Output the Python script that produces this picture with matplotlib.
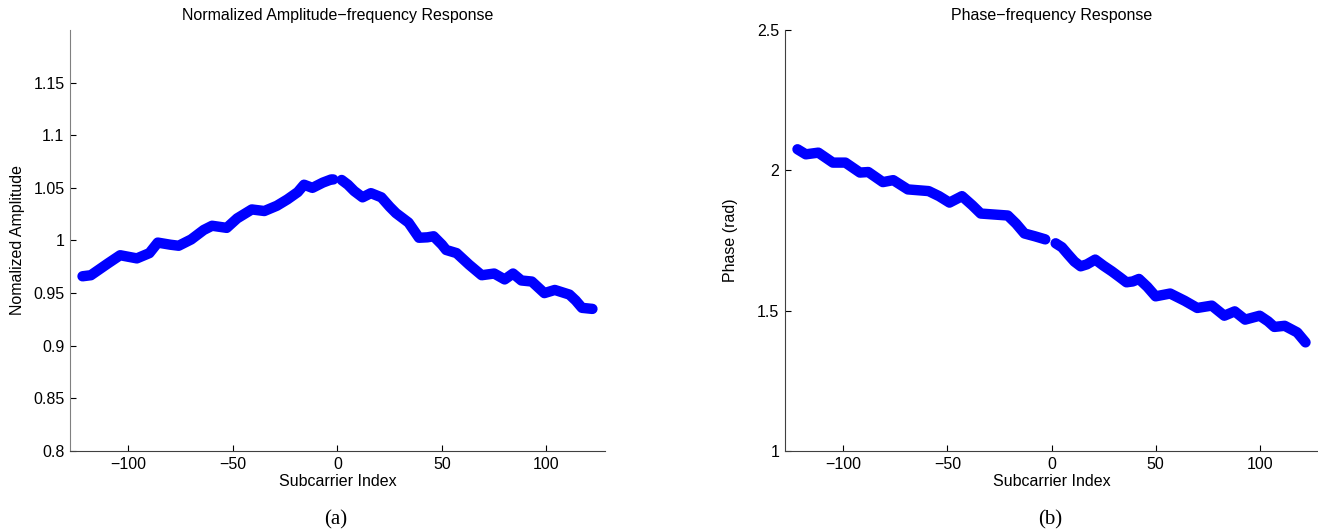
import numpy as np
import matplotlib.pyplot as plt

# amplitude response (two halves, gap at DC)
amp_idx_neg = [-122, -118, -110, -104, -96, -90, -86, -80, -76, -70, -64, -60, -53, -48, -41, -35, -29, -24, -19, -16, -12, -7, -3, -2]
amp_val_neg = [0.966, 0.967, 0.978, 0.986, 0.983, 0.988, 0.998, 0.996, 0.995, 1.001, 1.010, 1.014, 1.012, 1.021, 1.0295, 1.028, 1.033, 1.039, 1.046, 1.053, 1.050, 1.055, 1.058, 1.058]
amp_idx_pos = [2, 5, 8, 12, 16, 21, 25, 28, 34, 39, 43, 46, 50, 52, 57, 63, 69, 75, 80, 84, 88, 93, 99, 104, 111, 114, 117, 122]
amp_val_pos = [1.0575, 1.053, 1.047, 1.041, 1.045, 1.041, 1.032, 1.026, 1.017, 1.0026, 1.003, 1.004, 0.996, 0.991, 0.988, 0.977, 0.967, 0.9686, 0.963, 0.9686, 0.962, 0.961, 0.950, 0.953, 0.9486, 0.943, 0.936, 0.935]

# phase response
ph_idx_neg = [-122, -118, -112, -105, -99, -92, -88, -81, -76, -69, -59, -54, -49, -43, -38, -34, -21, -17, -13, -8, -3]
ph_val_neg = [2.075, 2.057, 2.063, 2.0275, 2.0275, 1.992, 1.994, 1.958, 1.965, 1.932, 1.926, 1.908, 1.885, 1.908, 1.875, 1.846, 1.839, 1.810, 1.775, 1.765, 1.754]
ph_idx_pos = [2, 5, 8, 11, 14, 17, 21, 25, 29, 33, 36, 39, 42, 46, 50, 57, 64, 70, 77, 80, 83, 88, 93, 100, 104, 107, 112, 118, 122]
ph_val_pos = [1.740, 1.726, 1.700, 1.675, 1.658, 1.665, 1.682, 1.660, 1.640, 1.618, 1.601, 1.604, 1.613, 1.585, 1.551, 1.561, 1.535, 1.5096, 1.518, 1.500, 1.482, 1.4975, 1.468, 1.482, 1.462, 1.442, 1.446, 1.4225, 1.387]

x_ticks = [-100, -50, 0, 50, 100]
amp_ticks = [0.8, 0.85, 0.9, 0.95, 1, 1.05, 1.1, 1.15]
ph_ticks = [1, 1.5, 2, 2.5]

plt.rcParams['font.family'] = ['Liberation Sans', 'DejaVu Sans']
plt.rcParams['font.size'] = 11

fig = plt.figure(figsize=(13.18, 5.31), dpi=100)
ax1 = fig.add_axes([0.0531, 0.1507, 0.4059, 0.7928])
ax2 = fig.add_axes([0.5956, 0.1507, 0.4044, 0.7928])

blue = '#0000ff'
line_kw = dict(color=blue, lw=7.5, solid_capstyle='round', solid_joinstyle='round')
for ax in (ax1, ax2):
    ax.spines['top'].set_visible(False)
    ax.spines['right'].set_visible(False)
    ax.tick_params(direction='in', length=4, labelsize=11.5, pad=4)
    ax.set_xlim(-128, 128)
    ax.set_xticks(x_ticks)
    ax.set_xticklabels(['\u2212100', '\u221250', '0', '50', '100'])
    ax.set_xlabel('Subcarrier Index', fontsize=11.5, labelpad=2)

ax1.plot(amp_idx_neg, amp_val_neg, **line_kw)
ax1.plot(amp_idx_pos, amp_val_pos, **line_kw)
ax1.set_ylim(0.8, 1.2)
ax1.set_yticks(amp_ticks)
ax1.set_yticklabels(['0.8', '0.85', '0.9', '0.95', '1', '1.05', '1.1', '1.15'])
ax1.set_ylabel('Nomalized Amplitude', fontsize=11.5, labelpad=6)
ax1.set_title('Normalized Amplitude\u2212frequency Response', fontsize=11.5, pad=7)
ax1.spines['left'].set_color('#808080')
ax1.spines['bottom'].set_color('#404040')

ax2.plot(ph_idx_neg, ph_val_neg, **line_kw)
ax2.plot(ph_idx_pos, ph_val_pos, **line_kw)
ax2.set_ylim(1, 2.5)
ax2.set_yticks(ph_ticks)
ax2.set_yticklabels(['1', '1.5', '2', '2.5'])
ax2.set_ylabel('Phase (rad)', fontsize=11.5, labelpad=14)
ax2.set_title('Phase\u2212frequency Response', fontsize=11.5, pad=7)
ax2.spines['left'].set_color('#404040')
ax2.spines['bottom'].set_color('#404040')

fig.text(0.255, 0.012, '(a)', fontsize=15, family='Liberation Serif', ha='center')
fig.text(0.797, 0.012, '(b)', fontsize=15, family='Liberation Serif', ha='center')

fig.savefig('out.png', dpi=100)
